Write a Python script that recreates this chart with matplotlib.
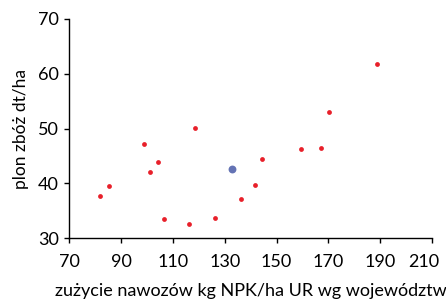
import matplotlib
matplotlib.use('Agg')
import matplotlib.pyplot as plt
import matplotlib.transforms as mtransforms

# fertilizer use (kg NPK/ha) vs cereal yield (dt/ha) by voivodeship
nawozy = [81.9, 85.5, 98.7, 101.2, 104.2, 106.6, 116.4, 118.7, 126.3,
          136.4, 141.6, 144.2, 159.3, 167.1, 170.3, 188.8]
plon = [37.6, 39.5, 47.1, 42.0, 43.9, 33.5, 32.6, 50.1, 33.6,
        37.2, 39.6, 44.4, 46.3, 46.5, 53.0, 61.7]
# country average
srednia_x = [132.8]
srednia_y = [42.6]

xticks = [70, 90, 110, 130, 150, 170, 190, 210]
yticks = [30, 40, 50, 60, 70]

plt.rcParams['font.family'] = ['Lato', 'DejaVu Sans']

fig = plt.figure(figsize=(4.46, 3.03), dpi=100)
ax = fig.add_axes([0.155, 0.2145, 0.814, 0.7228])

ax.scatter(nawozy, plon, s=12, color='#e8202a', zorder=3, linewidths=0)
ax.scatter(srednia_x, srednia_y, s=32, color='#6473b4', zorder=3, linewidths=0)

ax.set_xlim(70, 210)
ax.set_ylim(30, 70)
ax.set_xticks(xticks)
ax.set_yticks(yticks)
ax.tick_params(direction='out', length=3.6, width=1, labelsize=13)
ax.tick_params(axis='x', pad=8)
ax.tick_params(axis='y', pad=4)
for s in ['top', 'right']:
    ax.spines[s].set_visible(False)
for s in ['left', 'bottom']:
    ax.spines[s].set_linewidth(1)

# last x label is pulled left to stay inside the picture
last = ax.get_xticklabels()[-1]
last.set_transform(last.get_transform() +
                   mtransforms.ScaledTranslation(-8 / 100, 0, fig.dpi_scale_trans))

ax.set_xlabel('zużycie nawozów kg NPK/ha UR wg województw', fontsize=13, labelpad=9)
ax.set_ylabel('plon zbóż dt/ha', fontsize=12.5, labelpad=6)

fig.savefig('out.png', dpi=100)
